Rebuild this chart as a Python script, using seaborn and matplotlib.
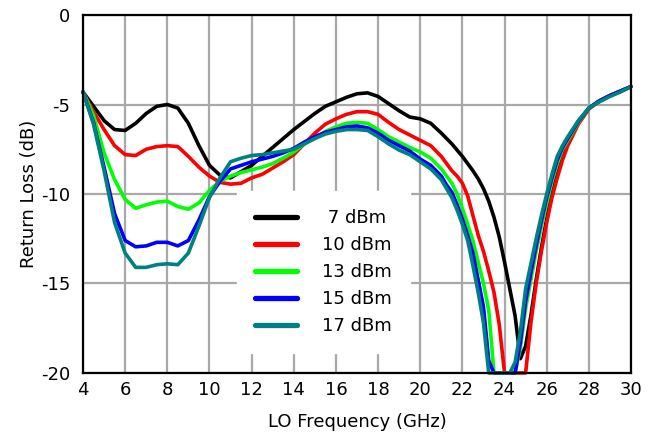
import numpy as np
import pandas as pd
import matplotlib
matplotlib.use("Agg")
import matplotlib.pyplot as plt
from matplotlib.lines import Line2D
import seaborn as sns

# LO frequency sweep (GHz)
freq = [4, 4.5, 5, 5.5, 6, 6.5, 7, 7.5, 8, 8.5, 9, 9.5, 10, 10.5, 11, 11.5,
        12, 12.5, 13, 13.5, 14, 14.5, 15, 15.5, 16, 16.5, 17, 17.5, 18, 18.5,
        19, 19.5, 20, 20.5, 21, 21.25, 21.5, 21.75, 22, 22.25, 22.5, 22.75,
        23, 23.25, 23.5, 23.75, 24, 24.25, 24.5, 24.75, 25, 25.25, 25.5, 25.75,
        26, 26.25, 26.5, 26.75, 27, 27.5, 28, 28.5, 29, 29.5, 30]

# Return loss (dB) per LO drive level; the analyzer floor is -20 dB
rl_7dbm = [-4.3, -5.1, -5.9, -6.4, -6.45, -6.05, -5.5, -5.1, -5.0, -5.2, -6.05, -7.3,
           -8.4, -8.95, -9.1, -8.75, -8.4, -7.9, -7.4, -6.9, -6.4, -5.95, -5.5, -5.1,
           -4.85, -4.6, -4.4, -4.35, -4.55, -4.95, -5.35, -5.7, -5.8, -6.05, -6.6, -6.9,
           -7.2, -7.55, -7.9, -8.3, -8.7, -9.15, -9.7, -10.4, -11.3, -12.4, -13.8, -15.3,
           -16.8, -19.2, -18.5, -16.8, -14.8, -13.0, -11.4, -10.0, -8.9, -8.0, -7.2,
           -6.0, -5.2, -4.8, -4.5, -4.25, -4.0]
rl_10dbm = [-4.3, -5.4, -6.4, -7.3, -7.8, -7.85, -7.5, -7.35, -7.3, -7.35, -7.9, -8.5,
            -9.0, -9.35, -9.45, -9.4, -9.1, -8.9, -8.55, -8.2, -7.8, -7.2, -6.6, -6.1,
            -5.8, -5.55, -5.4, -5.4, -5.55, -6.0, -6.4, -6.7, -7.0, -7.3, -7.9, -8.3,
            -8.7, -9.0, -9.4, -10.1, -11.2, -12.3, -13.2, -14.3, -15.5, -17.3, -20.0, -20.0,
            -20.0, -20.0, -20.0, -17.2, -15.0, -13.2, -11.6, -10.2, -9.1, -8.1, -7.3,
            -6.1, -5.25, -4.8, -4.5, -4.25, -4.0]
rl_13dbm = [-4.3, -5.6, -7.7, -9.2, -10.3, -10.8, -10.6, -10.45, -10.4, -10.7, -10.85, -10.5,
            -9.8, -9.3, -9.0, -8.8, -8.65, -8.5, -8.3, -8.0, -7.65, -7.2, -6.9, -6.5,
            -6.25, -6.05, -6.0, -6.05, -6.4, -6.8, -7.1, -7.4, -7.65, -8.0, -8.6, -9.0,
            -9.4, -10.0, -10.8, -11.7, -12.6, -13.8, -15.0, -16.5, -20.0, -20.0, -20.0, -20.0,
            -20.0, -18.6, -16.4, -14.8, -13.2, -11.8, -10.5, -9.3, -8.3, -7.5, -7.0,
            -6.0, -5.2, -4.8, -4.5, -4.25, -4.0]
rl_15dbm = [-4.3, -6.0, -8.5, -11.1, -12.6, -12.95, -12.9, -12.7, -12.7, -12.9, -12.6, -11.45,
            -10.15, -9.3, -8.6, -8.4, -8.2, -8.05, -7.9, -7.7, -7.45, -7.1, -6.8, -6.55,
            -6.4, -6.25, -6.2, -6.3, -6.6, -7.0, -7.3, -7.6, -8.05, -8.4, -9.0, -9.5,
            -9.9, -10.6, -11.4, -12.3, -13.3, -14.8, -16.3, -19.3, -20.0, -20.0, -20.0, -20.0,
            -20.0, -18.3, -16.0, -14.4, -12.9, -11.5, -10.2, -9.1, -8.1, -7.4, -6.9,
            -5.95, -5.2, -4.8, -4.5, -4.25, -4.0]
rl_17dbm = [-4.3, -6.1, -8.7, -11.6, -13.3, -14.1, -14.1, -13.95, -13.9, -13.95, -13.3, -11.8,
            -10.2, -9.1, -8.2, -8.0, -7.85, -7.8, -7.7, -7.6, -7.5, -7.2, -6.9, -6.65,
            -6.5, -6.4, -6.4, -6.45, -6.8, -7.2, -7.55, -7.8, -8.2, -8.6, -9.2, -9.7,
            -10.2, -10.9, -11.7, -12.6, -14.0, -15.5, -17.2, -20.0, -20.0, -20.0, -20.0, -20.0,
            -19.4, -17.7, -15.3, -13.9, -12.5, -11.2, -10.0, -8.9, -7.9, -7.3, -6.8,
            -5.9, -5.2, -4.85, -4.55, -4.3, -4.0]

labels = [" 7 dBm", "10 dBm", "13 dBm", "15 dBm", "17 dBm"]
colors = ["#000000", "#ff0000", "#00ff00", "#0000ff", "#008080"]
series = [rl_7dbm, rl_10dbm, rl_13dbm, rl_15dbm, rl_17dbm]

df = pd.concat(
    [pd.DataFrame({"freq": freq, "rl": vals, "level": lab})
     for lab, vals in zip(labels, series)],
    ignore_index=True,
)

sns.set_theme(style="white")
plt.rcParams["font.family"] = ["DejaVu Sans"]
plt.rcParams["axes.unicode_minus"] = False
plt.rcParams["text.color"] = "black"

fig = plt.figure(figsize=(6.56, 4.34), dpi=100)
ax = fig.add_axes([0.1265, 0.1406, 0.8354, 0.8248])

sns.lineplot(data=df, x="freq", y="rl", hue="level", hue_order=labels,
             palette=colors, linewidth=2.6, sort=False, ax=ax, legend=False,
             clip_on=False)

ax.set_xlim(4, 30)
ax.set_ylim(-20, 0)
ax.set_xticks(np.arange(4, 31, 2))
ax.set_yticks([0, -5, -10, -15, -20])
ax.grid(True, color="#a8a8a8", linewidth=1.6)
ax.set_axisbelow(True)
for s in ax.spines.values():
    s.set_color("black")
    s.set_linewidth(1.6)
ax.tick_params(axis="both", length=0, labelsize=13, colors="black")
ax.tick_params(axis="x", pad=6)
ax.tick_params(axis="y", pad=9)

ax.set_xlabel("LO Frequency (GHz)", fontsize=13, color="black", labelpad=10)
ax.set_ylabel("Return Loss (dB)", fontsize=13, color="black", labelpad=2)

handles = [Line2D([0], [0], color=c, linewidth=3.8) for c in colors]
leg = ax.legend(handles, labels, loc="upper left", bbox_to_anchor=(0.281, 0.508),
                borderaxespad=0, frameon=True, fancybox=False, framealpha=1,
                facecolor="white", edgecolor="white", fontsize=13,
                handlelength=2.3, handletextpad=1.4, labelspacing=0.5,
                borderpad=1.0)
for t in leg.get_texts():
    t.set_color("black")

fig.savefig("out.png", dpi=100)
